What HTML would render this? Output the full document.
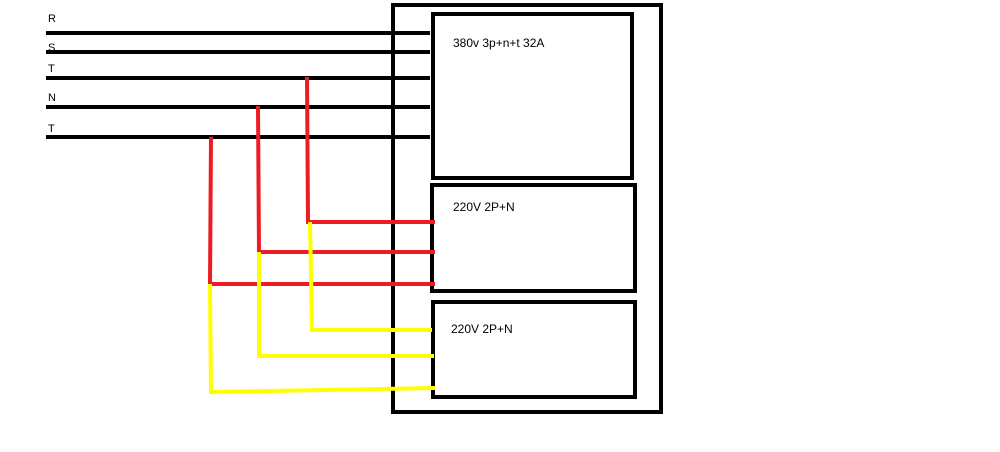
<!DOCTYPE html>
<html><head><style>html,body{margin:0;padding:0;background:#fff;width:1000px;height:452px;overflow:hidden}</style></head>
<body>
<svg width="1000" height="452" xmlns="http://www.w3.org/2000/svg" style="display:block">
<g fill="none" stroke="#000" stroke-width="4">
<rect x="393" y="5" width="268" height="407"/>
<rect x="433" y="14" width="199" height="164"/>
<rect x="432" y="185" width="203" height="106"/>
<rect x="433" y="302" width="202" height="95"/>
<line x1="46" y1="33" x2="430" y2="33"/>
<line x1="46" y1="52" x2="430" y2="52"/>
<line x1="46" y1="78" x2="430" y2="78"/>
<line x1="46" y1="107" x2="430" y2="107"/>
<line x1="46" y1="137" x2="430" y2="137"/>
</g>
<g fill="none" stroke="#ed1c24" stroke-width="4">
<polyline points="307,77 308,222 435,222"/>
<polyline points="258,106 259,252 435,252"/>
<polyline points="211,137 210,284 435,284"/>
</g>
<g fill="none" stroke="#ffff00" stroke-width="4">
<polyline points="310,222 312,330 432,330"/>
<polyline points="259,252 259,356 434,356"/>
<polyline points="210,284 211,392 435,388"/>
</g>
<g font-family="Liberation Sans, sans-serif" font-size="11" fill="#000">
<text x="48" y="22">R</text>
<text x="48" y="51">S</text>
<text x="48" y="72">T</text>
<text x="48" y="101">N</text>
<text x="48" y="132">T</text>
<text x="453" y="47" font-size="12">380v 3p+n+t 32A</text>
<text x="453" y="211" font-size="12">220V 2P+N</text>
<text x="451" y="333" font-size="12">220V 2P+N</text>
</g>
</svg>
</body></html>
